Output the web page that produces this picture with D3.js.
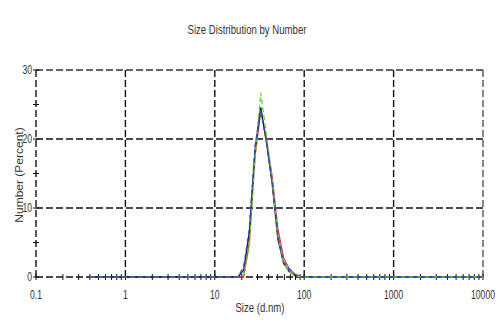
<!DOCTYPE html>
<html>
<head>
<meta charset="utf-8">
<script src="https://cdn.jsdelivr.net/npm/d3@7"></script>
<style>
  html, body { margin: 0; padding: 0; background: #fff; }
  svg { display: block; }
  text { font-family: "Liberation Sans", Arial, sans-serif; fill: #333; }
</style>
</head>
<body>
<svg id="chart" width="500" height="327"></svg>
<script>
// Size classes (d.nm), log-spaced bins
const sizes = [0.4, 0.4632, 0.5365, 0.6213, 0.7195, 0.8332, 0.9649, 1.117, 1.294, 1.499,
  1.736, 2.010, 2.328, 2.696, 3.122, 3.615, 4.187, 4.849, 5.615, 6.503,
  7.531, 8.721, 10.10, 11.70, 13.54, 15.69, 18.17, 21.04, 24.36, 28.21,
  32.67, 37.84, 43.82, 50.75, 58.77, 68.06, 78.82, 91.28, 105.7, 122.4,
  141.8, 164.2, 190.1, 220.2, 255.0, 295.3, 342.0, 396.1, 458.7, 531.2,
  615.1, 712.4, 825.0, 955.4, 1106, 1281, 1484, 1718, 1990, 2305,
  2669, 3091, 3580, 4145, 4801, 5560, 6439, 7456, 8635, 10000];

// Number distribution (%) for each record
const record1 = [0, 0, 0, 0, 0, 0, 0, 0, 0, 0,
  0, 0, 0, 0, 0, 0, 0, 0, 0, 0,
  0, 0, 0, 0, 0, 0, 0, 0, 5.0, 17.5,
  24.0, 20.0, 14.5, 7.0, 2.8, 1.2, 0.4, 0.1, 0, 0,
  0, 0, 0, 0, 0, 0, 0, 0, 0, 0,
  0, 0, 0, 0, 0, 0, 0, 0, 0, 0,
  0, 0, 0, 0, 0, 0, 0, 0, 0, 0];
const record2 = [0, 0, 0, 0, 0, 0, 0, 0, 0, 0,
  0, 0, 0, 0, 0, 0, 0, 0, 0, 0,
  0, 0, 0, 0, 0, 0, 0, 1.0, 6.5, 18.5,
  24.6, 19.5, 13.5, 5.5, 2.0, 0.8, 0.2, 0, 0, 0,
  0, 0, 0, 0, 0, 0, 0, 0, 0, 0,
  0, 0, 0, 0, 0, 0, 0, 0, 0, 0,
  0, 0, 0, 0, 0, 0, 0, 0, 0, 0];
const record3 = [0, 0, 0, 0, 0, 0, 0, 0, 0, 0,
  0, 0, 0, 0, 0, 0, 0, 0, 0, 0,
  0, 0, 0, 0, 0, 0, 0, 0.3, 4.5, 17.5,
  26.7, 20.5, 14.0, 6.0, 2.0, 0.8, 0.2, 0, 0, 0,
  0, 0, 0, 0, 0, 0, 0, 0, 0, 0,
  0, 0, 0, 0, 0, 0, 0, 0, 0, 0,
  0, 0, 0, 0, 0, 0, 0, 0, 0, 0];
const record4 = [0, 0, 0, 0, 0, 0, 0, 0, 0, 0,
  0, 0, 0, 0, 0, 0, 0, 0, 0, 0,
  0, 0, 0, 0, 0, 0, 0, 1.5, 7.0, 19.0,
  24.3, 19.5, 14.0, 6.0, 2.2, 1.2, 0.4, 0, 0, 0,
  0, 0, 0, 0, 0, 0, 0, 0, 0, 0,
  0, 0, 0, 0, 0, 0, 0, 0, 0, 0,
  0, 0, 0, 0, 0, 0, 0, 0, 0, 0];

const xTickValues = [0.1, 1, 10, 100, 1000, 10000];
const xTickLabels = ["0.1", "1", "10", "100", "1000", "10000"];
const yTickValues = [0, 10, 20, 30];
const yTickLabels = ["0", "10", "20", "30"];

const titleText = "Size Distribution  by Number";
const xTitle = "Size (d.nm)";
const yTitle = "Number (Percent)";

const svg = d3.select("#chart");
const x = d3.scaleLog().domain([0.1, 10000]).range([36, 483]);
const y = d3.scaleLinear().domain([0, 30]).range([277, 70]);

const gridColor = "#111";
const dash = "7,3";
const narrow = 0.72;

// Grid: vertical decades and horizontal major values (dashed)
svg.append("g").selectAll("line")
  .data(xTickValues.slice(1))
  .join("line")
  .attr("x1", d => x(d)).attr("x2", d => x(d))
  .attr("y1", y(30)).attr("y2", y(0))
  .attr("stroke", d => d === 10000 ? "#555" : gridColor)
  .attr("stroke-width", 1.4)
  .attr("stroke-dasharray", dash);

svg.append("g").selectAll("line")
  .data(yTickValues.slice(1))
  .join("line")
  .attr("x1", x(0.1)).attr("x2", x(10000))
  .attr("y1", d => y(d)).attr("y2", d => y(d))
  .attr("stroke", d => d === 30 ? "#333" : gridColor)
  .attr("stroke-width", 1.4)
  .attr("stroke-dasharray", dash);

// Axis lines (dashed) with crossing ticks
svg.append("line")
  .attr("x1", x(0.1)).attr("x2", x(0.1)).attr("y1", y(30)).attr("y2", y(0))
  .attr("stroke", gridColor).attr("stroke-width", 1.4).attr("stroke-dasharray", dash);
svg.append("line")
  .attr("x1", x(0.1)).attr("x2", x(10000)).attr("y1", y(0)).attr("y2", y(0))
  .attr("stroke", gridColor).attr("stroke-width", 1.4).attr("stroke-dasharray", dash);

const xMinor = [];
for (let e = -1; e < 4; e++) for (let m = 2; m <= 9; m++) xMinor.push(m * Math.pow(10, e));
svg.append("g").selectAll("line")
  .data(xMinor.concat(xTickValues))
  .join("line")
  .attr("x1", d => x(d)).attr("x2", d => x(d))
  .attr("y1", y(0) - 3).attr("y2", y(0) + 3)
  .attr("stroke", gridColor).attr("stroke-width", 1);

const yMinor = [5, 15, 25];
svg.append("g").selectAll("line")
  .data(yMinor.concat(yTickValues))
  .join("line")
  .attr("x1", x(0.1) - 3).attr("x2", x(0.1) + 3)
  .attr("y1", d => y(d)).attr("y2", d => y(d))
  .attr("stroke", gridColor).attr("stroke-width", 1);

// Tick labels
svg.append("g").selectAll("text")
  .data(xTickValues)
  .join("text")
  .attr("transform", d => `translate(${x(d)},299) scale(${narrow},1)`)
  .attr("text-anchor", "middle")
  .attr("font-size", 12)
  .text((d, i) => xTickLabels[i]);

svg.append("g").selectAll("text")
  .data(yTickValues)
  .join("text")
  .attr("transform", d => `translate(32,${y(d) + 4}) scale(${narrow},1)`)
  .attr("text-anchor", "end")
  .attr("font-size", 12)
  .text((d, i) => yTickLabels[i]);

// Titles
svg.append("text")
  .attr("transform", `translate(247,34) scale(0.8,1)`)
  .attr("text-anchor", "middle").attr("font-size", 12)
  .text(titleText);
svg.append("text")
  .attr("transform", `translate(260,312) scale(0.8,1)`)
  .attr("text-anchor", "middle").attr("font-size", 12)
  .text(xTitle);
svg.append("text")
  .attr("transform", `translate(23,175) rotate(-90) scale(1,0.85)`)
  .attr("text-anchor", "middle").attr("font-size", 12)
  .text(yTitle);

// Distribution curves
const line = d3.line().x((d, i) => x(sizes[i])).y(d => y(d));
const records = [
  { values: record1, color: "#e23b3b", dashed: false },
  { values: record2, color: "#151545", dashed: false },
  { values: record3, color: "#6fcf2a", dashed: true },
  { values: record4, color: "#2f4fc6", dashed: true }
];
svg.append("g").selectAll("path")
  .data(records)
  .join("path")
  .attr("d", d => line(d.values))
  .attr("fill", "none")
  .attr("stroke", d => d.color)
  .attr("stroke-width", 1.3)
  .attr("stroke-dasharray", d => d.dashed ? "5,3" : null);
</script>
</body>
</html>
